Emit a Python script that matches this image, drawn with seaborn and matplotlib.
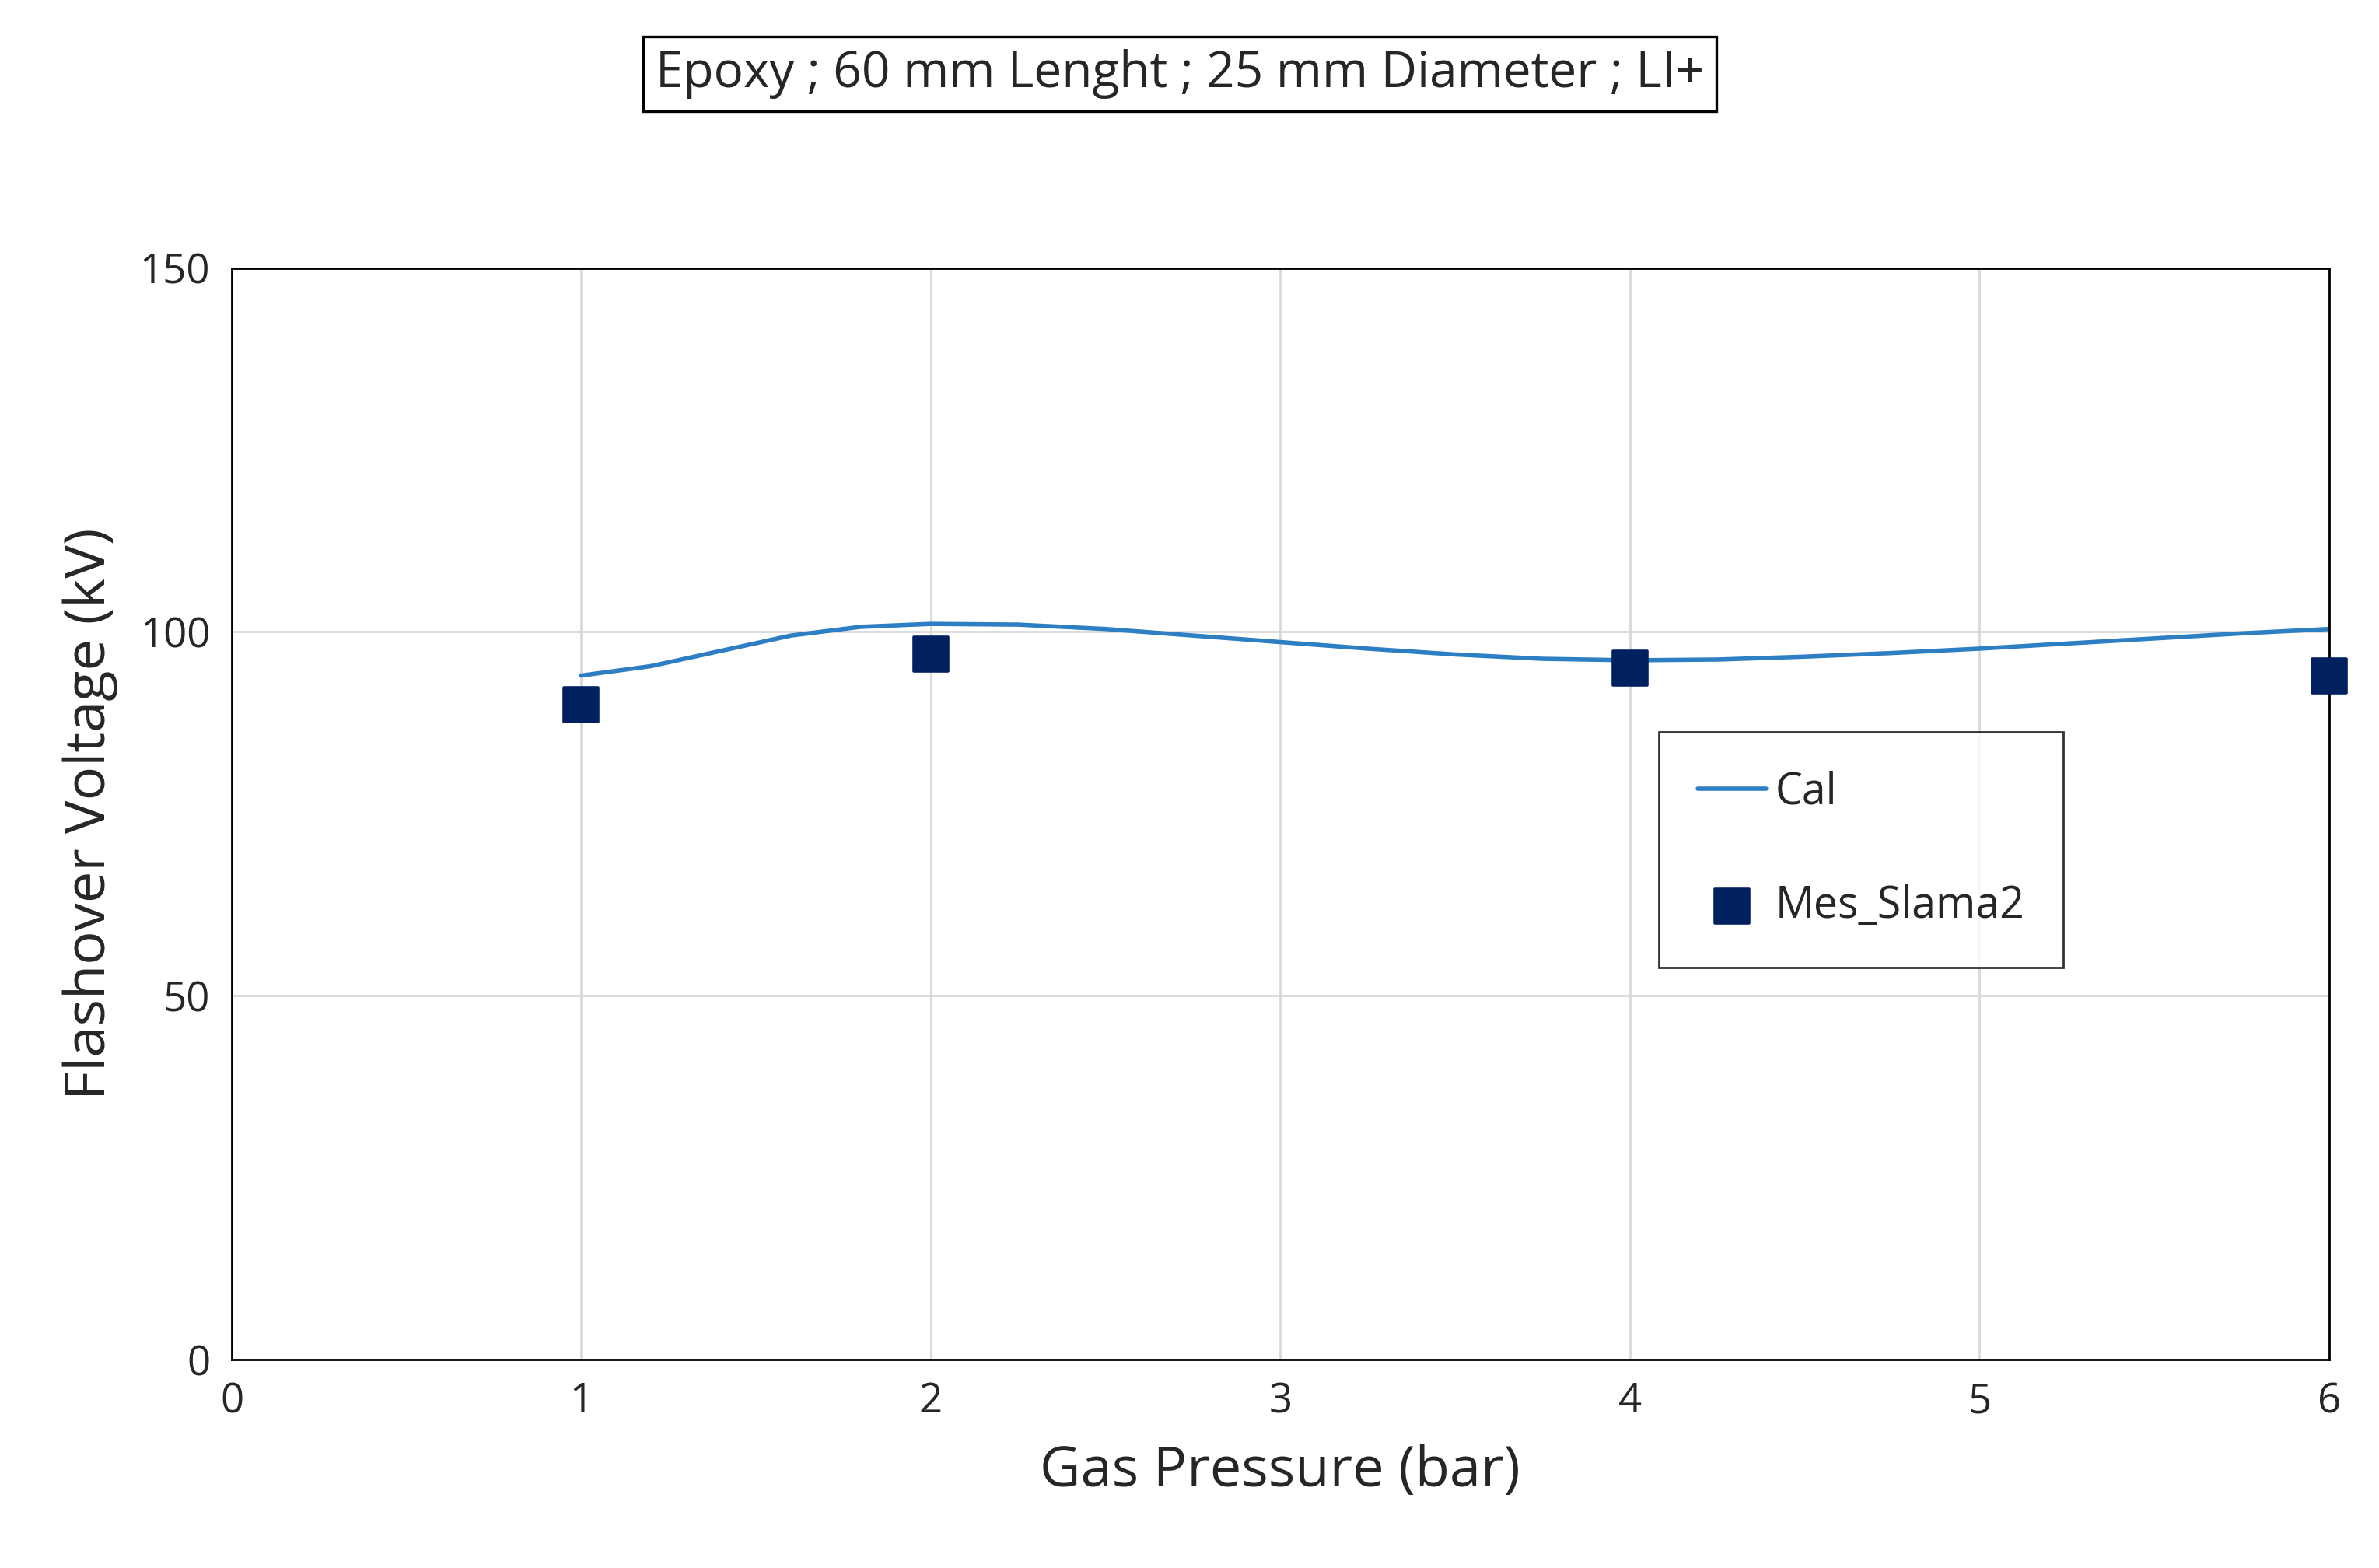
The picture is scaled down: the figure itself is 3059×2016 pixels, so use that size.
import matplotlib
matplotlib.use("Agg")
import matplotlib.pyplot as plt
import seaborn as sns
import pandas as pd

cal_x = [1.0, 1.2, 1.4, 1.6, 1.8, 2.0, 2.25, 2.5, 2.75, 3.0, 3.25, 3.5, 3.75, 4.0, 4.25, 4.5, 4.75, 5.0, 5.25, 5.5, 5.75, 6.0]
cal_y = [94.0, 95.3, 97.4, 99.5, 100.7, 101.1, 101.0, 100.4, 99.5, 98.6, 97.7, 96.9, 96.3, 96.1, 96.2, 96.6, 97.1, 97.7, 98.4, 99.1, 99.8, 100.4]
mes_x = [1, 2, 4, 6]
mes_y = [90, 97, 95, 94]

sns.set_theme(style="white")
plt.rcParams['font.family'] = ['Open Sans', 'DejaVu Sans']

fig = plt.figure(figsize=(15.295, 10.08), dpi=200)
ax = fig.add_axes([0.0974, 0.133, 0.8816, 0.696])

sns.lineplot(data=pd.DataFrame({"x": cal_x, "y": cal_y}), x="x", y="y", ax=ax,
             color="#2E7EC4", linewidth=2, label="Cal")
sns.scatterplot(data=pd.DataFrame({"x": mes_x, "y": mes_y}), x="x", y="y", ax=ax,
                color="#002060", marker="s", s=260, edgecolor="#002060", label="Mes_Slama2",
                zorder=5, clip_on=False)

ax.set_xlim(0, 6)
ax.set_ylim(0, 150)
ax.set_xticks(range(0, 7))
ax.set_yticks([0, 50, 100, 150])
ax.grid(True, color="#D9D9D9", linewidth=1)
for s in ax.spines.values():
    s.set_color("black"); s.set_linewidth(1)
ax.tick_params(labelsize=19, length=0, pad=10)
ax.set_xlabel("Gas Pressure (bar)", fontsize=26, labelpad=10)
ax.set_ylabel("Flashover Voltage (kV)", fontsize=26, labelpad=10)

leg = ax.legend(loc="upper left", bbox_to_anchor=(0.67, 0.595), fontsize=20,
                frameon=True, fancybox=False, edgecolor="black", labelspacing=1.6,
                borderpad=0.9, handlelength=1.6, handletextpad=0.2)
leg.get_frame().set_linewidth(1)

fig.text(0.496, 0.953, "Epoxy ; 60 mm Lenght ; 25 mm Diameter ; LI+", ha="center", va="center",
         fontsize=23, bbox=dict(boxstyle="square,pad=0.25", facecolor="white", edgecolor="black", linewidth=1.2))

fig.savefig("out.png", dpi=200)
